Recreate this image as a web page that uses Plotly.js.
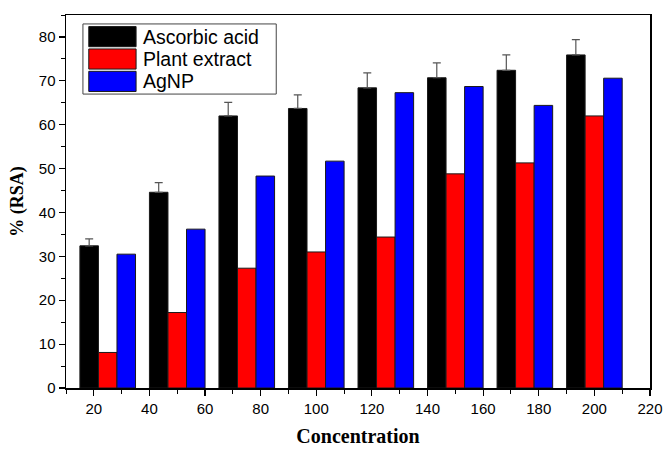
<!DOCTYPE html>
<html>
<head>
<meta charset="utf-8">
<script src="https://cdn.plot.ly/plotly-3.0.1.min.js"></script>
<style>html,body{margin:0;padding:0;background:#fff;}#chart{width:669px;height:450px;}</style>
</head>
<body>
<div id="chart"></div>
<script>
// Data
const concentrations = [25, 50, 75, 100, 125, 150, 175, 200];
const ascorbicAcid   = [32.4, 44.6, 62.0, 63.7, 68.4, 70.7, 72.4, 75.9];
const ascorbicErr    = [1.6, 2.2, 3.1, 3.1, 3.4, 3.4, 3.5, 3.5];
const plantExtract   = [8.1, 17.2, 27.3, 31.0, 34.4, 48.8, 51.3, 62.0];
const agNP           = [30.5, 36.2, 48.3, 51.7, 67.3, 68.7, 64.4, 70.6];
const seriesNames    = ["Ascorbic acid", "Plant extract", "AgNP"];
const seriesColors   = ["#000000", "#ff0000", "#0000ff"];
const xTickVals      = [20, 40, 60, 80, 100, 120, 140, 160, 180, 200, 220];

const outline = {color: "#1a1a1a", width: 1};
const traces = [
  {type: "bar", name: seriesNames[0], x: concentrations, y: ascorbicAcid,
   marker: {color: seriesColors[0], line: outline},
   error_y: {type: "data", symmetric: false, array: ascorbicErr,
             arrayminus: ascorbicErr.map(() => 0), color: "#555555", thickness: 1.2, width: 4}},
  {type: "bar", name: seriesNames[1], x: concentrations, y: plantExtract,
   marker: {color: seriesColors[1], line: outline}},
  {type: "bar", name: seriesNames[2], x: concentrations, y: agNP,
   marker: {color: seriesColors[2], line: outline}}
];

// Custom legend (large swatches like the reference)
const shapes = [{type: "rect", xref: "paper", yref: "paper",
  x0: 0.029, x1: 0.360, y0: 0.788, y1: 0.976,
  line: {color: "#444", width: 1}, fillcolor: "rgba(255,255,255,0)"}];
const annotations = [];
const rowTop = [0.969, 0.909, 0.849];
const rowH = 0.054;
seriesNames.forEach((nm, i) => {
  shapes.push({type: "rect", xref: "paper", yref: "paper",
    x0: 0.039, x1: 0.120, y0: rowTop[i] - rowH, y1: rowTop[i],
    line: {color: "#1a1a1a", width: 1}, fillcolor: seriesColors[i]});
  annotations.push({xref: "paper", yref: "paper", x: 0.129, y: rowTop[i] - rowH / 2,
    xanchor: "left", yanchor: "middle", showarrow: false, text: nm,
    font: {family: "Liberation Sans, Arial, sans-serif", size: 19.5, color: "#000"}});
});

const layout = {
  width: 669, height: 450,
  margin: {l: 66, r: 19, t: 15, b: 62},
  paper_bgcolor: "#fff", plot_bgcolor: "#fff",
  showlegend: false,
  barmode: "group", bargap: 0.2, bargroupgap: 0,
  font: {family: "Liberation Sans, Arial, sans-serif", size: 15, color: "#000"},
  xaxis: {
    range: [10, 220], tickvals: xTickVals, ticks: "outside", ticklen: 6, tickwidth: 1.2,
    tickcolor: "#000", showline: true, linecolor: "#000", linewidth: 1.5, mirror: true,
    showgrid: false, zeroline: false,
    minor: {dtick: 10, tick0: 0, ticks: "outside", ticklen: 4, tickcolor: "#000", tickwidth: 1, showgrid: false},
    tickfont: {size: 15},
    title: {text: "<b>Concentration</b>", standoff: 13,
            font: {family: "Liberation Serif, Times New Roman, serif", size: 20}}
  },
  yaxis: {
    range: [0, 85], dtick: 10, tick0: 0, ticks: "outside", ticklen: 6, tickwidth: 1.2,
    tickcolor: "#000", showline: true, linecolor: "#000", linewidth: 1.5, mirror: true,
    showgrid: false, zeroline: false,
    minor: {dtick: 5, tick0: 0, ticks: "outside", ticklen: 4, tickcolor: "#000", tickwidth: 1, showgrid: false},
    tickfont: {size: 15},
    title: {text: "<b>% (RSA)</b>", standoff: 10,
            font: {family: "Liberation Serif, Times New Roman, serif", size: 18}}
  },
  shapes: shapes,
  annotations: annotations
};

Plotly.newPlot("chart", traces, layout, {displayModeBar: false, staticPlot: true});
</script>
</body>
</html>
